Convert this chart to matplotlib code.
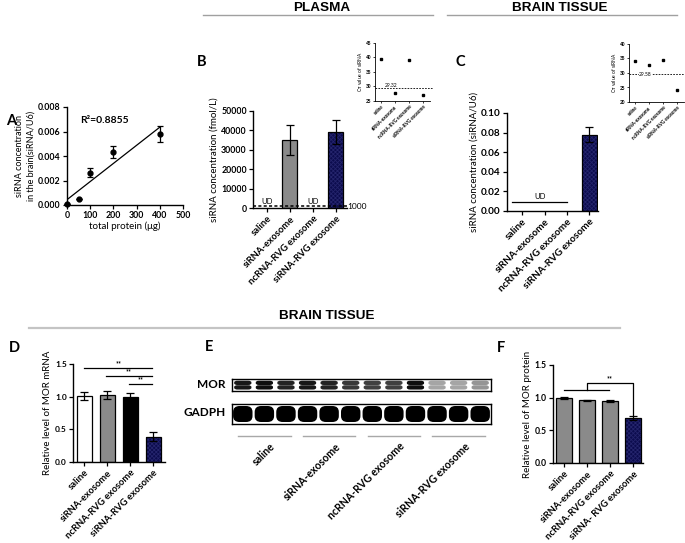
import numpy as np
import matplotlib
matplotlib.use('Agg')
import matplotlib.pyplot as plt
from matplotlib.patches import FancyBboxPatch
from matplotlib.lines import Line2D

# ---------------- data ----------------
groups = ['saline', 'siRNA-exosome', 'ncRNA-RVG exosome', 'siRNA-RVG exosome']
groups_f = ['saline', 'siRNA-exosome', 'ncRNA-RVG exosome', 'siRNA- RVG exosome']

a_protein = [0, 50, 100, 200, 400]
a_conc = [0.00005, 0.00046, 0.00265, 0.00431, 0.00580]
a_err = [0.0, 0.0, 0.00037, 0.00048, 0.00062]
a_r2 = 'R²=0.8855'

b_conc = [np.nan, 35000, np.nan, 39000]
b_err = [0, 7800, 0, 6200]
b_limit = 1000
b_ct = [39.5, 27.6, 39.1, 27.2]
b_ct_thr = 29.32

c_conc = [np.nan, np.nan, np.nan, 0.078]
c_err = [0, 0, 0, 0.008]
c_ud = 0.009
c_ct = [34.3, 32.9, 34.6, 24.3]
c_ct_thr = 29.58

d_mrna = [1.01, 1.02, 0.99, 0.39]
d_err = [0.06, 0.06, 0.065, 0.065]

f_prot = [1.00, 0.96, 0.955, 0.69]
f_err = [0.015, 0.005, 0.015, 0.03]

mor_int = [0.92, 0.95, 0.88, 0.92, 0.88, 0.82, 0.8, 0.8, 0.95, 0.45, 0.45, 0.5]
gapdh_int = [1.0] * 12

# ---------------- style ----------------
plt.rcParams['font.family'] = ['Lato', 'DejaVu Sans']
plt.rcParams['font.weight'] = 'bold'
plt.rcParams['hatch.linewidth'] = 0.6

NAVY = '#0c0c4e'
HATCHC = '#24246c'
GRAY = '#8a8a8a'

W, H = 685, 543
fig = plt.figure(figsize=(W / 100, H / 100), dpi=100)


def rect(x0, y0, x1, y1):
    return [x0 / W, 1 - y1 / H, (x1 - x0) / W, (y1 - y0) / H]


def style(ax, fs=6.3, lw=1.0, tl=3):
    for s in ['top', 'right']:
        ax.spines[s].set_visible(False)
    for s in ['left', 'bottom']:
        ax.spines[s].set_linewidth(lw)
    ax.tick_params(direction='out', length=tl, width=lw * 0.9, labelsize=fs, pad=1.5)


def navy_bar(ax, x, h, w):
    ax.bar(x, h, w, color=NAVY, edgecolor=HATCHC, hatch='xxxxxxxx', lw=0)
    ax.bar(x, h, w, fill=False, edgecolor='black', lw=0.9)


def errb(ax, x, h, e, cap=3):
    ax.errorbar(x, h, yerr=e, fmt='none', ecolor='black', elinewidth=0.9, capsize=cap, capthick=0.9)


def cat_axis(ax, labels, fs=6.8):
    ax.set_xticks(range(len(labels)))
    ax.set_xticklabels(labels, rotation=45, ha='right', rotation_mode='anchor', fontsize=fs)


# ---------------- headers ----------------
hdr = dict(family=['Liberation Sans', 'DejaVu Sans'], fontsize=9.7, weight='bold', ha='center', va='center')
fig.text(322 / W, 1 - 8 / H, 'PLASMA', **hdr)
fig.text(560 / W, 1 - 8 / H, 'BRAIN TISSUE', **hdr)
fig.text(327 / W, 1 - 316 / H, 'BRAIN TISSUE', **hdr)
fig.add_artist(Line2D([203 / W, 433 / W], [1 - 15 / H] * 2, color='#a0a0a0', lw=1.0))
fig.add_artist(Line2D([447 / W, 677 / W], [1 - 15 / H] * 2, color='#a0a0a0', lw=1.0))
fig.add_artist(Line2D([29 / W, 620 / W], [1 - 328 / H] * 2, color='#c4c4c4', lw=1.6))

plab = dict(fontsize=10.5, weight='bold', ha='left', va='center')
for t, x, y in [('A', 6, 121), ('B', 197, 62), ('C', 456, 62), ('D', 9, 348), ('E', 205, 347), ('F', 497, 348)]:
    fig.text(x / W, 1 - y / H, t, **plab)

# ---------------- A ----------------
axA = fig.add_axes(rect(67, 107, 183, 205))
style(axA)
axA.errorbar(a_protein, a_conc, yerr=a_err, fmt='o', color='black', ms=3.5,
             capsize=2.5, elinewidth=0.9, capthick=0.9, clip_on=False, zorder=3)
coef = np.polyfit(a_protein, a_conc, 1)
xs = np.array([a_protein[0], a_protein[-1]])
axA.plot(xs, np.polyval(coef, xs), color='black', lw=0.9)
axA.set_xlim(0, 500)
axA.set_ylim(0, 0.008)
axA.set_xticks(range(0, 501, 100))
axA.set_yticks(np.arange(0, 0.0081, 0.002))
axA.set_yticklabels([f'{v:.3f}' for v in np.arange(0, 0.0081, 0.002)])
axA.text(56, 0.0069, a_r2, fontsize=7.5, va='center', ha='left')
axA.set_ylabel('siRNA concentration\nin the brain(siRNA/U6)', fontsize=6.5, labelpad=2, linespacing=1.3)
axA.set_xlabel('total protein (μg)', fontsize=7, labelpad=1)

# ---------------- B ----------------
axB = fig.add_axes(rect(253, 111, 347, 208))
style(axB)
x4 = np.arange(4)
for i in x4:
    if np.isnan(b_conc[i]):
        axB.text(i, b_limit + 500, 'UD', fontsize=5.5, weight='normal', ha='center', va='bottom')
        continue
    if i == 3:
        navy_bar(axB, i, b_conc[i], 0.65)
    else:
        axB.bar(i, b_conc[i], 0.65, color=GRAY, edgecolor='black', lw=0.9)
    errb(axB, i, b_conc[i], b_err[i])
axB.axhline(b_limit, color='black', lw=1.1, ls=(0, (2, 1.5)), clip_on=False)
axB.text(3.5, b_limit, '1000', fontsize=6, weight='normal', ha='left', va='center')
axB.set_xlim(-0.6, 3.48)
axB.set_ylim(0, 50000)
axB.set_yticks(range(0, 50001, 10000))
cat_axis(axB, groups)
axB.set_ylabel('siRNA concentration (fmol/L)', fontsize=7, labelpad=2)

# inset B
axBi = fig.add_axes(rect(375, 43, 430, 101))
style(axBi, fs=3.4, lw=0.6, tl=1.5)
axBi.plot(x4, b_ct, 's', color='black', ms=1.8)
axBi.axhline(b_ct_thr, color='black', lw=0.6, ls=(0, (2, 1.5)), xmax=1.05, clip_on=False)
axBi.text(0.3, b_ct_thr + 0.3, f'{b_ct_thr:.2f}', fontsize=3.6, weight='normal', ha='left', va='bottom')
axBi.set_xlim(-0.43, 3.5)
axBi.set_ylim(25, 45)
axBi.set_yticks(range(25, 46, 5))
cat_axis(axBi, groups, fs=3.3)
axBi.tick_params(pad=0.8)
axBi.set_ylabel('C$_\\mathrm{T}$ value of siRNA', fontsize=3.5, labelpad=1)

# ---------------- C ----------------
axC = fig.add_axes(rect(507, 113, 598, 211))
style(axC, fs=7.2)
for i in x4:
    if np.isnan(c_conc[i]):
        continue
    navy_bar(axC, i, c_conc[i], 0.67)
    errb(axC, i, c_conc[i], c_err[i])
axC.plot([-0.44, 1.98], [c_ud, c_ud], color='black', lw=0.9)
axC.text(0.8, c_ud + 0.002, 'UD', fontsize=5.5, weight='normal', ha='center', va='bottom')
axC.set_xlim(-0.67, 3.38)
axC.set_ylim(0, 0.10)
axC.set_yticks(np.arange(0, 0.101, 0.02))
axC.set_yticklabels([f'{v:.2f}' for v in np.arange(0, 0.101, 0.02)])
cat_axis(axC, groups, fs=7.2)
axC.set_ylabel('siRNA concentration (siRNA/U6)', fontsize=7, labelpad=2)

# inset C
axCi = fig.add_axes(rect(629, 44, 684, 102))
style(axCi, fs=3.4, lw=0.6, tl=1.5)
axCi.plot(x4, c_ct, 's', color='black', ms=1.8)
axCi.axhline(c_ct_thr, color='black', lw=0.6, ls=(0, (2, 1.5)))
axCi.text(0.75, c_ct_thr, f'{c_ct_thr:.2f}', fontsize=3.6, weight='normal', ha='center', va='center',
          bbox=dict(fc='white', ec='none', pad=0.3))
axCi.set_xlim(-0.43, 3.5)
axCi.set_ylim(20, 40)
axCi.set_yticks(range(20, 41, 5))
cat_axis(axCi, groups, fs=3.3)
axCi.tick_params(pad=0.8)
axCi.set_ylabel('C$_\\mathrm{T}$ value of siRNA', fontsize=3.5, labelpad=1)

# ---------------- D ----------------
axD = fig.add_axes(rect(73, 364, 165, 462))
style(axD, fs=6)
d_colors = ['white', GRAY, 'black', None]
for i in x4:
    if i == 3:
        navy_bar(axD, i, d_mrna[i], 0.66)
    else:
        axD.bar(i, d_mrna[i], 0.66, color=d_colors[i], edgecolor='black', lw=0.9)
    errb(axD, i, d_mrna[i], d_err[i])
for (s, e, y) in [(0, 2.96, 1.44), (0.93, 2.96, 1.32), (1.93, 2.96, 1.2)]:
    axD.plot([s, e], [y, y], color='black', lw=0.9, clip_on=False)
    axD.text((s + e) / 2, y + 0.01, '**', fontsize=5, ha='center', va='bottom')
axD.set_xlim(-0.5, 3.52)
axD.set_ylim(0, 1.5)
axD.set_yticks([0, 0.5, 1.0, 1.5])
axD.set_yticklabels(['0.0', '0.5', '1.0', '1.5'])
cat_axis(axD, groups)
axD.set_ylabel('Relative level of MOR mRNA', fontsize=7, labelpad=2)

# ---------------- E (western blot) ----------------
axE1 = fig.add_axes(rect(232, 379, 491, 391))
axE2 = fig.add_axes(rect(232, 404, 491, 424))
for ax in (axE1, axE2):
    ax.set_xlim(0, 12)
    ax.set_ylim(0, 1)
    ax.set_xticks([])
    ax.set_yticks([])
    for s in ax.spines.values():
        s.set_linewidth(1.0)
for i, v in enumerate(mor_int):
    for yb in (0.12, 0.5):
        axE1.add_patch(FancyBboxPatch((i + 0.1, yb), 0.8, 0.36,
                                      boxstyle='round,pad=0,rounding_size=0.15',
                                      fc=plt.cm.Greys(v), ec='none'))
for i, v in enumerate(gapdh_int):
    axE2.add_patch(FancyBboxPatch((i + 0.05, 0.1), 0.9, 0.8,
                                  boxstyle='round,pad=0,rounding_size=0.3',
                                  fc=plt.cm.Greys(v), ec='none'))
fig.text(226 / W, 1 - 385 / H, 'MOR', fontsize=8.5, ha='right', va='center')
fig.text(226 / W, 1 - 412 / H, 'GADPH', fontsize=8.5, ha='right', va='center')

axEg = fig.add_axes(rect(232, 430, 491, 442))
axEg.set_xlim(0, 12)
axEg.set_ylim(0, 1)
axEg.axis('off')
for g, name in enumerate(groups):
    axEg.plot([3 * g + 0.28, 3 * g + 2.72], [0.5, 0.5], color='#a8a8a8', lw=1.0)
    axEg.text(3 * g + 1.75, 0.1, name, rotation=45, ha='right', va='top',
              rotation_mode='anchor', fontsize=7.6)

# ---------------- F ----------------
axF = fig.add_axes(rect(553, 365, 643, 463))
style(axF, fs=6.2)
for i in x4:
    if i == 3:
        navy_bar(axF, i, f_prot[i], 0.68)
    else:
        axF.bar(i, f_prot[i], 0.68, color=GRAY, edgecolor='black', lw=0.9)
    errb(axF, i, f_prot[i], f_err[i])
axF.plot([0.01, 1.97], [1.12, 1.12], color='black', lw=0.9)
axF.plot([0.98, 0.98, 2.99, 2.99], [1.12, 1.22, 1.22, 0.74], color='black', lw=0.9)
axF.text(1.98, 1.23, '**', fontsize=5, ha='center', va='bottom')
axF.set_xlim(-0.49, 3.43)
axF.set_ylim(0, 1.5)
axF.set_yticks([0, 0.5, 1.0, 1.5])
axF.set_yticklabels(['0.0', '0.5', '1.0', '1.5'])
cat_axis(axF, groups_f)
axF.set_ylabel('Relative level of MOR protein', fontsize=7, labelpad=2)

fig.savefig('out.png', dpi=100)
